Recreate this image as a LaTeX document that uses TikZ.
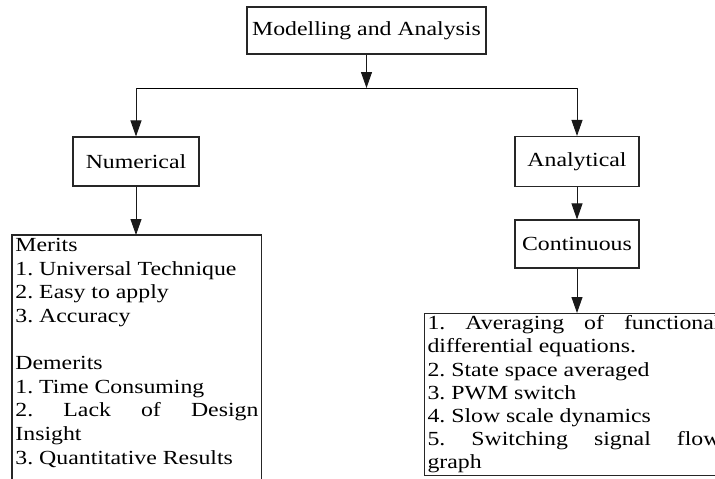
\documentclass[tikz,border=0pt]{standalone}
\usepackage{fontspec}
\setmainfont{Liberation Serif}[FakeStretch=1.19]
\usetikzlibrary{arrows.meta}
\frenchspacing

\begin{document}
\begin{tikzpicture}[x=1pt,y=-1pt,line width=0.9pt,
  box/.style={draw=black!85,line width=1.1pt,rectangle,inner sep=0pt,font=\fontsize{20}{24}\selectfont},
  listbox/.style={rectangle,inner sep=3pt,align=justify,anchor=north west},
  arr/.style={-{Triangle[width=11pt,length=16pt]},black!90}]
  \useasboundingbox (0,0) rectangle (715,479);
  \clip (0,0) rectangle (715,479);

  \node [box,minimum width=239pt,minimum height=47pt] (top) at (366.5,30.5) {Modelling and Analysis};
  \node [box,minimum width=126pt,minimum height=49pt] (num) at (136,161.5) {Numerical};
  \node [box,minimum width=124pt,minimum height=50pt] (ana) at (577,161.5) {Analytical};
  \node [box,minimum width=124pt,minimum height=48pt] (cont) at (577,244) {Continuous};

  % merits box runs on past the lower edge
  \node [listbox,text width=243pt,font=\fontsize{20}{23.6}\selectfont] (merits) at (12,235)
    {Merits\\ 1. Universal Technique\\ 2. Easy to apply\\ 3. Accuracy\\ \mbox{}\\
     Demerits\\ 1. Time Consuming\\ 2. Lack of Design\linebreak Insight\\ 3. Quantitative Results};
  \draw [draw=black!85,line width=1.1pt] (merits.north west |- 0,495) -- (merits.north west)
    -- (merits.north east) -- (merits.north east |- 0,495);

  \node [listbox,draw=black!85,line width=1.1pt,inner ysep=2pt,text width=293pt,font=\fontsize{20}{23.2}\selectfont] (methods) at (424,313)
    {1. Averaging of functional\linebreak differential equations.\\ 2. State space averaged\\
     3. PWM switch\\ 4. Slow scale dynamics\\ 5. Switching signal flow\linebreak graph};

  \coordinate (split) at (366.5,88);
  \draw [arr] (top) -- (split);
  \draw (num.north |- split) -- (ana.north |- split);
  \draw [arr] (num.north |- split) -- (num.north);
  \draw [arr] (ana.north |- split) -- (ana.north);
  \draw [arr] (num) -- (num |- merits.north);
  \draw [arr] (ana) -- (cont);
  \draw [arr] (cont) -- (cont |- methods.north);
\end{tikzpicture}
\end{document}
